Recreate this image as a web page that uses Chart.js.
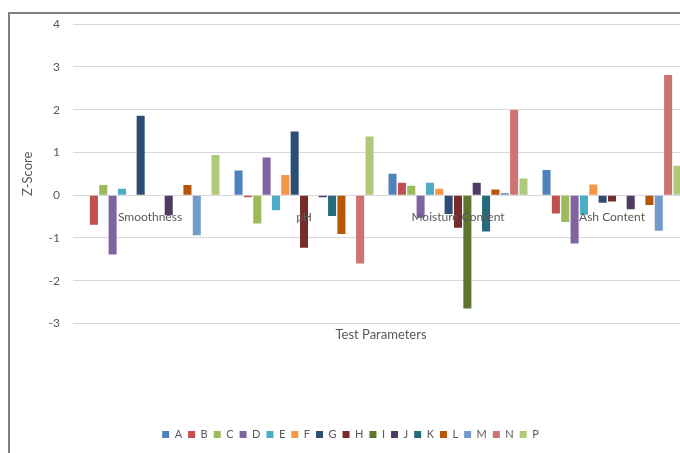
<!DOCTYPE html>
<html>
<head>
<meta charset="utf-8">
<script src="https://cdn.jsdelivr.net/npm/chart.js@4/dist/chart.umd.min.js"></script>
<style>
  html, body { margin: 0; padding: 0; background: #ffffff; overflow: hidden; width: 680px; height: 453px; }
  #frame {
    position: absolute; left: 8px; top: 12px;
    width: 700px; height: 470px;
    border-left: 2px solid #808080; border-top: 2px solid #808080;
    background: #ffffff;
  }
  #wrap { position: absolute; left: 0; top: -10px; width: 690px; height: 446px; }
</style>
</head>
<body>
<div id="frame"><div id="wrap"><canvas id="chart"></canvas></div></div>
<script>
// Test parameters (categories)
const categories = ['Smoothness', 'pH', 'Moisture Content', 'Ash Content'];

// Sample labels (one series per sample)
const seriesNames = ['A', 'B', 'C', 'D', 'E', 'F', 'G', 'H', 'I', 'J', 'K', 'L', 'M', 'N', 'P'];

// Z-scores per sample: [Smoothness, pH, Moisture Content, Ash Content]
const zA = [0.00, 0.58, 0.50, 0.59];
const zB = [-0.69, -0.05, 0.29, -0.43];
const zC = [0.24, -0.66, 0.22, -0.63];
const zD = [-1.39, 0.88, -0.53, -1.13];
const zE = [0.15, -0.35, 0.29, -0.46];
const zF = [0.00, 0.47, 0.15, 0.25];
const zG = [1.86, 1.49, -0.44, -0.18];
const zH = [0.00, -1.23, -0.76, -0.15];
const zI = [0.00, 0.00, -2.65, 0.00];
const zJ = [-0.47, -0.05, 0.29, -0.33];
const zK = [0.00, -0.49, -0.85, 0.00];
const zL = [0.24, -0.91, 0.13, -0.23];
const zM = [-0.94, 0.00, 0.05, -0.83];
const zN = [0.00, -1.60, 1.99, 2.81];
const zP = [0.94, 1.37, 0.39, 0.69];

const seriesValues = [zA, zB, zC, zD, zE, zF, zG, zH, zI, zJ, zK, zL, zM, zN, zP];

// Y axis range
const yMin = -3;
const yMax = 4;

const seriesColors = [
  '#4F81BD', '#C0504D', '#9BBB59', '#8064A2', '#4BACC6',
  '#F79646', '#2C4D75', '#772C2A', '#5F7530', '#4D3B62',
  '#276A7C', '#B65708', '#729ACA', '#CD7371', '#AFC97A'
];

const textColor = '#595959';
const fontFamily = 'Lato, "Liberation Sans", sans-serif';

const datasets = seriesNames.map((name, i) => ({
  label: name,
  data: seriesValues[i],
  backgroundColor: seriesColors[i],
  borderWidth: 0,
  categoryPercentage: 0.911,
  barPercentage: 0.86
}));

new Chart(document.getElementById('chart'), {
  type: 'bar',
  data: { labels: categories, datasets },
  options: {
    responsive: true,
    maintainAspectRatio: false,
    animation: false,
    layout: { padding: { left: 2, right: 11, top: 4, bottom: 0 } },
    plugins: {
      legend: {
        position: 'bottom',
        labels: {
          boxWidth: 7, boxHeight: 7, padding: 6,
          color: textColor,
          font: { family: fontFamily, size: 11 }
        }
      },
      title: {
        display: true,
        text: 'Test Parameters',
        position: 'bottom',
        fullSize: false,
        weight: 500,
        color: textColor,
        font: { family: fontFamily, size: 13, weight: 'normal' },
        padding: { top: 4, bottom: 80 }
      },
      tooltip: { enabled: false }
    },
    scales: {
      x: {
        position: { y: 0 },
        grid: { display: false },
        border: { display: false },
        ticks: {
          color: textColor,
          font: { family: fontFamily, size: 12 },
          padding: 7,
          z: 1,
          maxRotation: 0,
          autoSkip: false
        }
      },
      y: {
        min: yMin,
        max: yMax,
        ticks: {
          stepSize: 1,
          color: textColor,
          font: { family: fontFamily, size: 12 },
          padding: 13
        },
        grid: { color: '#d9d9d9', lineWidth: 1, drawTicks: false },
        border: { display: false },
        title: {
          display: true,
          text: 'Z-Score',
          color: textColor,
          font: { family: fontFamily, size: 13 },
          padding: { top: 8, bottom: 0 }
        }
      }
    }
  }
});
</script>
</body>
</html>
